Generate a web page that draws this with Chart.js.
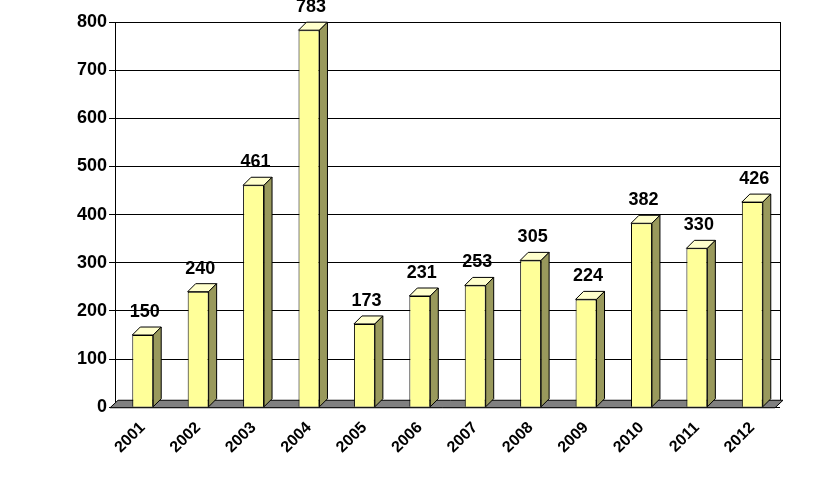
<!DOCTYPE html>
<html><head><meta charset="utf-8">
<script src="https://cdn.jsdelivr.net/npm/chart.js@4/dist/chart.umd.min.js"></script>
<style>html,body{margin:0;background:#fff}#w{width:838px;height:480px}</style>
</head><body><div id="w"><canvas id="c"></canvas></div>
<script>
const categories=['2001','2002','2003','2004','2005','2006','2007','2008','2009','2010','2011','2012'];
const values=[150,240,461,783,173,231,253,305,224,382,330,426];
const yTicks=[0,100,200,300,400,500,600,700,800];
const D=8;
const bar3d={id:'bar3d',
 beforeDatasetsDraw(ch){const {ctx,chartArea:a}=ch;const y0=ch.scales.y.getPixelForValue(0);
  ctx.save();ctx.strokeStyle='#000';ctx.lineWidth=1;
  ctx.beginPath();ctx.moveTo(a.right+0.5,a.top);ctx.lineTo(a.right+0.5,y0-D+1);ctx.stroke();
  ctx.fillStyle='#808080';ctx.beginPath();ctx.moveTo(a.left-5,y0+0.5);ctx.lineTo(a.right-5,y0+0.5);ctx.lineTo(a.right+D-5,y0-D+1);ctx.lineTo(a.left+D-5,y0-D+1);ctx.closePath();ctx.fill();ctx.stroke();
  ctx.restore();},
 afterDatasetsDraw(ch){const {ctx}=ch;const meta=ch.getDatasetMeta(0);
  ctx.save();ctx.strokeStyle='#000';ctx.lineWidth=1;
  meta.data.forEach((b,i)=>{const l=b.x-b.width/2,r=b.x+b.width/2,t=b.y,bt=b.base;
   ctx.fillStyle='#FFFFCC';ctx.beginPath();ctx.moveTo(l,t);ctx.lineTo(l+D,t-D);ctx.lineTo(r+D,t-D);ctx.lineTo(r,t);ctx.closePath();ctx.fill();ctx.stroke();
   ctx.fillStyle='#99995C';ctx.beginPath();ctx.moveTo(r,t);ctx.lineTo(r+D,t-D);ctx.lineTo(r+D,bt-D);ctx.lineTo(r,bt);ctx.closePath();ctx.fill();ctx.stroke();
   ctx.fillStyle='#000';ctx.font='bold 18px "Liberation Sans", Arial';ctx.textAlign='center';ctx.textBaseline='bottom';
   ctx.fillText(String(values[i]),b.x+2,t-14);
  });ctx.restore();}};
new Chart(document.getElementById('c'),{type:'bar',
 data:{labels:categories,datasets:[{data:values,backgroundColor:'#FFFF99',borderColor:'#000',borderWidth:1,barPercentage:0.42,categoryPercentage:0.9}]},
 options:{responsive:true,maintainAspectRatio:false,animation:false,
  layout:{padding:{top:22,right:58,left:75,bottom:20}},
  plugins:{legend:{display:false},tooltip:{enabled:false}},
  scales:{
   x:{grid:{display:false},border:{display:false},ticks:{color:'#000',font:{family:'"Liberation Sans", Arial',size:16,weight:'bold'},maxRotation:45,minRotation:45}},
   y:{min:0,max:800,afterBuildTicks:s=>{s.ticks=yTicks.map(v=>({value:v}))},
      grid:{color:'#000',drawTicks:true,tickLength:6},border:{color:'#000'},
      ticks:{color:'#000',padding:2,font:{family:'"Liberation Sans", Arial',size:18,weight:'bold'}}}
  }},
 plugins:[bar3d]});
</script></body></html>
